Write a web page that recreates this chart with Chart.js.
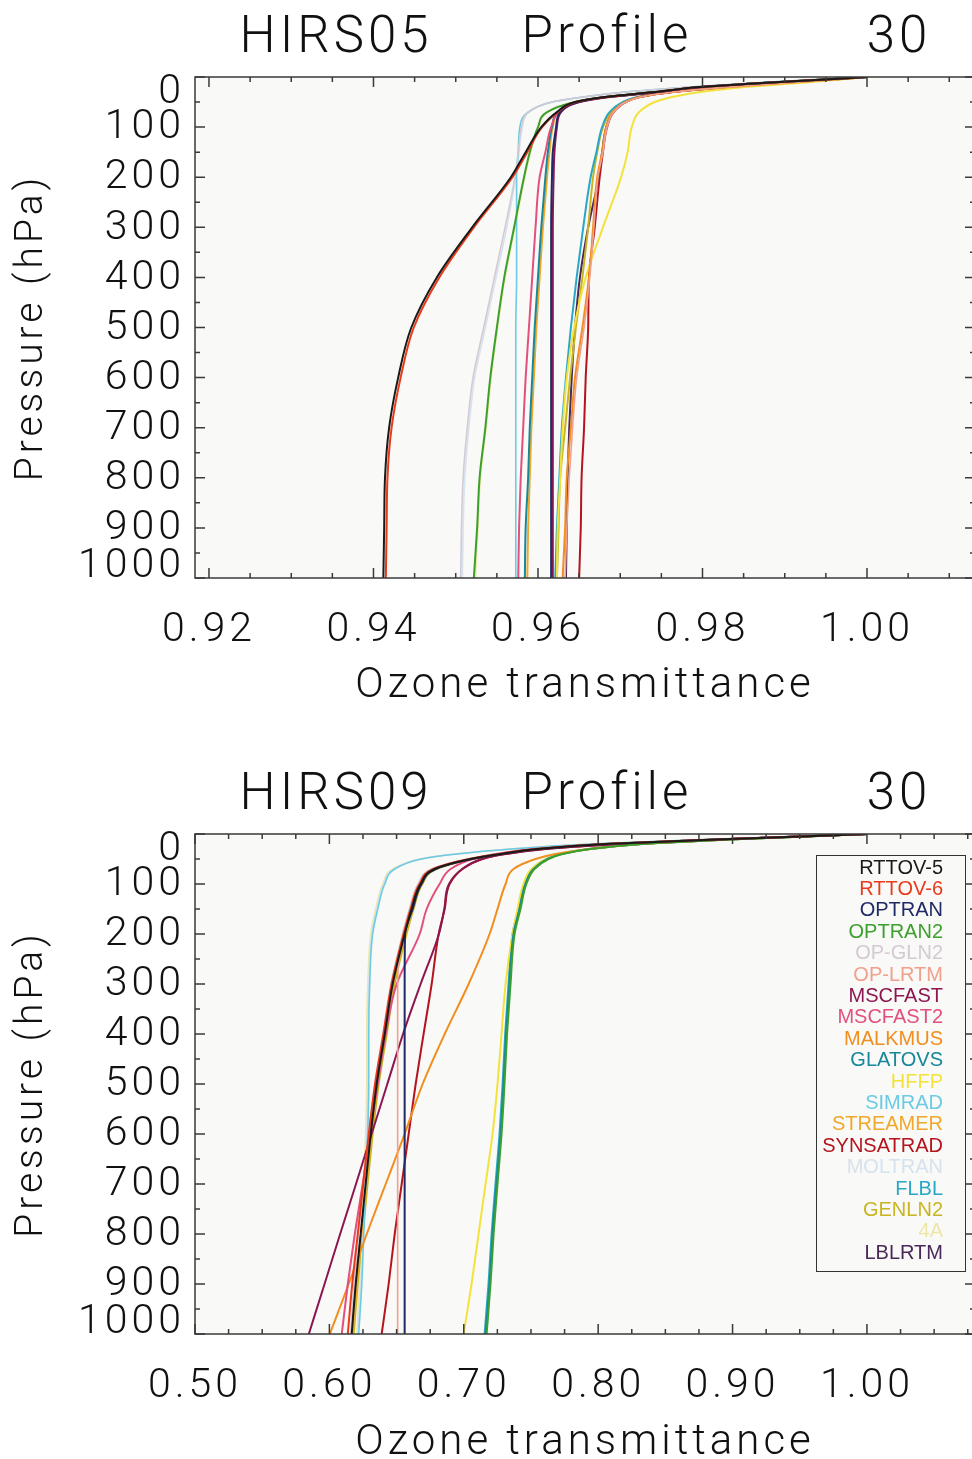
<!DOCTYPE html>
<html><head><meta charset="utf-8">
<script src="https://cdn.jsdelivr.net/npm/chart.js@4"></script>
<style>
html,body{margin:0;padding:0;background:#fff;width:972px;height:1459px;overflow:hidden;position:relative;}
canvas{position:absolute;left:0;}
#c1{top:0}
#c2{top:757px}
</style></head><body>
<canvas id="c1" width="1000" height="720"></canvas>
<canvas id="c2" width="1000" height="720"></canvas>
<script>
// ---------- data ----------
const PRESSURE = [0,10,20,30,40,50,70,100,150,200,300,400,500,600,700,800,900,1000];
const MODEL_NAMES = ['RTTOV-5','RTTOV-6','OPTRAN','OPTRAN2','OP-GLN2','OP-LRTM','MSCFAST','MSCFAST2','MALKMUS','GLATOVS','HFFP','SIMRAD','STREAMER','SYNSATRAD','MOLTRAN','FLBL','GENLN2','4A','LBLRTM'];
const MODEL_COLORS = ['#1a1a1a','#ea3a1c','#1f2a66','#3ca02c','#d4cad4','#f2a08e','#8e1650','#e2507e','#f18e1e','#17879a','#f4e23c','#6ccbe2','#f0a82a','#b3141e','#d6e2ee','#2aa6c6','#c9b522','#efe6a6','#4a2858'];
const MODEL_WIDTHS = [2,2,2,2,1.6,1.6,2,2,2,2,2,1.6,2,2,1.6,2,2,1.6,2];

const TITLE_05 = ['HIRS05','Profile','30'];
const TITLE_09 = ['HIRS09','Profile','30'];
const X_TITLE = 'Ozone transmittance';
const Y_TITLE = 'Pressure (hPa)';
const Y_MAJOR = [0,100,200,300,400,500,600,700,800,900,1000];
const X_MAJOR_05 = [0.92,0.94,0.96,0.98,1.00];
const X_MAJOR_09 = [0.50,0.60,0.70,0.80,0.90,1.00];

// HIRS05 transmittance profiles (one per model, at PRESSURE levels)
const h05_rttov5   = [1.0000,0.9894,0.9797,0.9742,0.9681,0.9645,0.9623,0.9604,0.9585,0.9567,0.9520,0.9477,0.9446,0.9430,0.9419,0.9414,0.9413,0.9412];
const h05_rttov6   = [1.0000,0.9895,0.9798,0.9743,0.9682,0.9646,0.9624,0.9605,0.9587,0.9569,0.9522,0.9480,0.9449,0.9433,0.9422,0.9417,0.9416,0.9415];
const h05_optran   = [1.0000,0.9894,0.9797,0.9745,0.9684,0.9649,0.9627,0.9622,0.9618,0.9617,0.9616,0.9616,0.9616,0.9616,0.9616,0.9616,0.9616,0.9616];
const h05_optran2  = [1.0000,0.9894,0.9797,0.9742,0.9681,0.9645,0.9611,0.9600,0.9590,0.9583,0.9571,0.9559,0.9550,0.9542,0.9536,0.9529,0.9526,0.9522];
const h05_opgln2   = [1.0000,0.9882,0.9785,0.9706,0.9655,0.9617,0.9588,0.9580,0.9576,0.9572,0.9560,0.9547,0.9534,0.9521,0.9514,0.9509,0.9507,0.9506];
const h05_oplrtm   = [1.0000,0.9919,0.9834,0.9765,0.9725,0.9707,0.9692,0.9684,0.9679,0.9673,0.9668,0.9663,0.9656,0.9647,0.9642,0.9638,0.9635,0.9633];
const h05_mscfast  = [1.0000,0.9895,0.9798,0.9746,0.9685,0.9650,0.9628,0.9623,0.9620,0.9619,0.9618,0.9618,0.9618,0.9618,0.9618,0.9618,0.9618,0.9618];
const h05_mscfast2 = [1.0000,0.9897,0.9803,0.9748,0.9688,0.9651,0.9626,0.9616,0.9609,0.9602,0.9597,0.9593,0.9589,0.9585,0.9582,0.9579,0.9577,0.9576];
const h05_malkmus  = [1.0000,0.9919,0.9833,0.9764,0.9724,0.9706,0.9691,0.9683,0.9678,0.9672,0.9667,0.9662,0.9654,0.9645,0.9640,0.9635,0.9633,0.9630];
const h05_glatovs  = [1.0000,0.9894,0.9797,0.9743,0.9683,0.9647,0.9624,0.9617,0.9612,0.9609,0.9604,0.9600,0.9596,0.9593,0.9590,0.9588,0.9585,0.9584];
const h05_hffp     = [1.0000,0.9931,0.9852,0.9797,0.9763,0.9742,0.9723,0.9714,0.9709,0.9701,0.9679,0.9658,0.9644,0.9635,0.9630,0.9627,0.9624,0.9623];
const h05_simrad   = [1.0000,0.9882,0.9785,0.9706,0.9655,0.9617,0.9588,0.9578,0.9576,0.9574,0.9574,0.9574,0.9573,0.9573,0.9573,0.9573,0.9573,0.9573];
const h05_streamer = [1.0000,0.9894,0.9797,0.9744,0.9684,0.9648,0.9625,0.9618,0.9614,0.9611,0.9606,0.9602,0.9598,0.9595,0.9592,0.9590,0.9588,0.9587];
const h05_synsatrad= [1.0000,0.9919,0.9833,0.9764,0.9724,0.9707,0.9692,0.9684,0.9679,0.9675,0.9669,0.9662,0.9661,0.9658,0.9656,0.9653,0.9652,0.9650];
const h05_moltran  = [1.0000,0.9883,0.9786,0.9707,0.9656,0.9618,0.9589,0.9581,0.9577,0.9573,0.9562,0.9549,0.9536,0.9523,0.9516,0.9511,0.9509,0.9508];
const h05_flbl     = [1.0000,0.9915,0.9830,0.9761,0.9721,0.9703,0.9687,0.9678,0.9671,0.9664,0.9655,0.9647,0.9640,0.9634,0.9629,0.9626,0.9623,0.9621];
const h05_genln2   = [1.0000,0.9916,0.9831,0.9762,0.9722,0.9705,0.9689,0.9679,0.9672,0.9667,0.9661,0.9654,0.9646,0.9639,0.9633,0.9627,0.9625,0.9623];
const h05_4a       = [1.0000,0.9894,0.9797,0.9742,0.9681,0.9645,0.9612,0.9601,0.9591,0.9584,0.9572,0.9560,0.9551,0.9543,0.9537,0.9530,0.9527,0.9524];
const h05_lblrtm   = [1.0000,0.9918,0.9832,0.9763,0.9723,0.9706,0.9691,0.9683,0.9678,0.9674,0.9661,0.9651,0.9645,0.9641,0.9638,0.9636,0.9635,0.9634];

// HIRS09 transmittance profiles
const h09_rttov5   = [1.0000,0.8983,0.8054,0.7549,0.7274,0.7051,0.6783,0.6679,0.6612,0.6560,0.6471,0.6412,0.6352,0.6308,0.6270,0.6233,0.6196,0.6166];
const h09_rttov6   = [1.0000,0.8975,0.8040,0.7535,0.7260,0.7040,0.6772,0.6670,0.6604,0.6552,0.6463,0.6402,0.6340,0.6293,0.6252,0.6211,0.6170,0.6137];
const h09_optran   = [1.0000,0.8990,0.8060,0.7555,0.7280,0.7058,0.6790,0.6686,0.6620,0.6563,0.6560,0.6560,0.6560,0.6560,0.6560,0.6560,0.6560,0.6560];
const h09_optran2  = [1.0000,0.9070,0.8328,0.7942,0.7734,0.7630,0.7526,0.7466,0.7422,0.7378,0.7348,0.7322,0.7303,0.7281,0.7251,0.7222,0.7199,0.7170];
const h09_opgln2   = [1.0000,0.8970,0.8030,0.7520,0.7245,0.7025,0.6760,0.6660,0.6595,0.6545,0.6458,0.6398,0.6338,0.6293,0.6255,0.6218,0.6183,0.6159];
const h09_oplrtm   = [1.0000,0.8985,0.8055,0.7550,0.7276,0.7054,0.6786,0.6683,0.6612,0.6545,0.6508,0.6508,0.6508,0.6508,0.6508,0.6508,0.6508,0.6508];
const h09_mscfast  = [1.0000,0.8975,0.8150,0.7600,0.7305,0.7135,0.6988,0.6890,0.6855,0.6815,0.6679,0.6548,0.6431,0.6314,0.6198,0.6080,0.5964,0.5847];
const h09_mscfast2 = [1.0000,0.8983,0.8165,0.7534,0.7236,0.7066,0.6902,0.6820,0.6724,0.6672,0.6501,0.6419,0.6360,0.6300,0.6248,0.6189,0.6137,0.6092];
const h09_malkmus  = [1.0000,0.9057,0.8314,0.7942,0.7682,0.7534,0.7370,0.7311,0.7251,0.7192,0.7036,0.6858,0.6694,0.6560,0.6419,0.6278,0.6144,0.6003];
const h09_glatovs  = [1.0000,0.9064,0.8321,0.7935,0.7727,0.7623,0.7519,0.7459,0.7415,0.7370,0.7340,0.7315,0.7296,0.7274,0.7244,0.7214,0.7192,0.7162];
const h09_hffp     = [1.0000,0.9057,0.8314,0.7927,0.7719,0.7615,0.7504,0.7444,0.7400,0.7363,0.7311,0.7281,0.7251,0.7214,0.7162,0.7110,0.7058,0.6999];
const h09_simrad   = [1.0000,0.8915,0.7950,0.7355,0.6946,0.6686,0.6486,0.6412,0.6360,0.6322,0.6300,0.6293,0.6293,0.6285,0.6270,0.6256,0.6241,0.6218];
const h09_streamer = [1.0000,0.8985,0.8055,0.7550,0.7276,0.7054,0.6786,0.6683,0.6616,0.6565,0.6476,0.6416,0.6356,0.6312,0.6276,0.6240,0.6205,0.6174];
const h09_synsatrad= [1.0000,0.8983,0.8165,0.7608,0.7311,0.7140,0.6991,0.6895,0.6858,0.6813,0.6761,0.6701,0.6642,0.6590,0.6538,0.6486,0.6441,0.6389];
const h09_moltran  = [1.0000,0.8908,0.7942,0.7348,0.6939,0.6679,0.6479,0.6404,0.6352,0.6315,0.6293,0.6285,0.6285,0.6278,0.6263,0.6248,0.6233,0.6211];
const h09_flbl     = [1.0000,0.9057,0.8314,0.7927,0.7719,0.7615,0.7511,0.7452,0.7407,0.7363,0.7333,0.7308,0.7289,0.7266,0.7236,0.7207,0.7184,0.7155];
const h09_genln2   = [1.0000,0.8995,0.8065,0.7560,0.7286,0.7063,0.6796,0.6692,0.6626,0.6574,0.6485,0.6427,0.6367,0.6322,0.6284,0.6248,0.6211,0.6181];
const h09_4a       = [1.0000,0.8900,0.7935,0.7340,0.6930,0.6672,0.6471,0.6397,0.6345,0.6308,0.6286,0.6278,0.6278,0.6270,0.6256,0.6241,0.6226,0.6204];
const h09_lblrtm   = [1.0000,0.8990,0.8060,0.7555,0.7280,0.7058,0.6790,0.6686,0.6620,0.6567,0.6478,0.6419,0.6358,0.6313,0.6274,0.6236,0.6198,0.6166];

const H05 = [h05_rttov5,h05_rttov6,h05_optran,h05_optran2,h05_opgln2,h05_oplrtm,h05_mscfast,h05_mscfast2,h05_malkmus,h05_glatovs,h05_hffp,h05_simrad,h05_streamer,h05_synsatrad,h05_moltran,h05_flbl,h05_genln2,h05_4a,h05_lblrtm];
const H09 = [h09_rttov5,h09_rttov6,h09_optran,h09_optran2,h09_opgln2,h09_oplrtm,h09_mscfast,h09_mscfast2,h09_malkmus,h09_glatovs,h09_hffp,h09_simrad,h09_streamer,h09_synsatrad,h09_moltran,h09_flbl,h09_genln2,h09_4a,h09_lblrtm];

// ---------- styling ----------
const FONT = "Roboto, 'DejaVu Sans', sans-serif";
const FW = '300';
const INK = '#111111';
const FRAME = '#3a3a3a';
const PLOT_BG = '#f9f9f7';
const LS = '4px';

function buildDatasets(series) {
  return series.map((vals, i) => ({
    label: MODEL_NAMES[i],
    data: vals.map((v, j) => ({x: v, y: PRESSURE[j]})),
    borderColor: MODEL_COLORS[i],
    backgroundColor: MODEL_COLORS[i],
    borderWidth: MODEL_WIDTHS[i],
    pointRadius: 0,
    fill: false,
    cubicInterpolationMode: 'monotone',
    indexAxis: 'y'
  }));
}

function isMajor(v, majors) { return majors.some(m => Math.abs(m - v) < 1e-7); }

function framePlugin(title, withLegend) {
  return {
    id: 'frame',
    beforeDraw(chart) {
      const {ctx, chartArea: a} = chart;
      ctx.save();
      ctx.fillStyle = PLOT_BG;
      ctx.fillRect(a.left, a.top, a.right - a.left, a.bottom - a.top);
      ctx.fillStyle = INK;
      ctx.font = `${FW} 51px ${FONT}`;
      ctx.letterSpacing = LS;
      ctx.textAlign = 'center';
      ctx.textBaseline = 'alphabetic';
      const cx = [336, 607, 899];
      title.forEach((t, i) => ctx.fillText(t, cx[i], 52));
      ctx.restore();
      chart.ctx.letterSpacing = LS;
    },
    afterDraw(chart) {
      const {ctx, chartArea: a, scales} = chart;
      ctx.save();
      ctx.letterSpacing = '0px';
      ctx.strokeStyle = FRAME;
      ctx.lineWidth = 1.5;
      ctx.strokeRect(a.left, a.top, a.right - a.left, a.bottom - a.top);
      ctx.beginPath();
      scales.x.ticks.forEach(t => {
        const px = scales.x.getPixelForValue(t.value);
        if (px < a.left - 0.5 || px > a.right + 0.5) return;
        const len = t.label ? 10 : 5;
        ctx.moveTo(px, a.bottom); ctx.lineTo(px, a.bottom - len);
        ctx.moveTo(px, a.top); ctx.lineTo(px, a.top + len);
      });
      scales.y.ticks.forEach(t => {
        const py = scales.y.getPixelForValue(t.value);
        const len = t.label ? 10 : 5;
        ctx.moveTo(a.left, py); ctx.lineTo(a.left + len, py);
        ctx.moveTo(a.right, py); ctx.lineTo(a.right - len, py);
      });
      ctx.stroke();
      // y tick labels (end labels pulled inside the axis span)
      ctx.fillStyle = INK;
      ctx.font = `${FW} 41px ${FONT}`;
      ctx.letterSpacing = LS;
      ctx.textAlign = 'right';
      ctx.textBaseline = 'middle';
      scales.y.ticks.forEach(t => {
        if (!t.label) return;
        let py = scales.y.getPixelForValue(t.value);
        py = Math.min(Math.max(py, a.top + 15), a.bottom - 12);
        ctx.fillText(t.label, 185, py + 1);
      });
      if (withLegend) {
        ctx.letterSpacing = '0px';
        const bx = 816, by = 98, bw = 149, bh = 416;
        ctx.fillStyle = PLOT_BG;
        ctx.fillRect(bx, by, bw, bh);
        ctx.strokeStyle = '#333';
        ctx.lineWidth = 1;
        ctx.strokeRect(bx + 0.5, by + 0.5, bw, bh);
        ctx.font = "20px 'Liberation Sans', Arial, sans-serif";
        ctx.textAlign = 'right';
        ctx.textBaseline = 'middle';
        chart.data.datasets.forEach((d, i) => {
          ctx.fillStyle = d.borderColor;
          ctx.fillText(d.label, 943, 111 + i * 21.4);
        });
      }
      ctx.restore();
    }
  };
}

function makeChart(id, series, title, xmin, xmax, xstep, xMajors, xAxisH, withLegend) {
  return new Chart(document.getElementById(id), {
    type: 'line',
    data: {datasets: buildDatasets(series)},
    options: {
      responsive: false,
      animation: false,
      devicePixelRatio: 1,
      indexAxis: 'y',
      layout: {padding: {top: 77, right: 25, left: 0, bottom: 0}},
      plugins: {legend: {display: false}, tooltip: {enabled: false}, title: {display: false}},
      scales: {
        x: {
          type: 'linear', position: 'bottom', min: xmin, max: xmax,
          grid: {display: false, drawTicks: false},
          border: {display: false},
          ticks: {
            stepSize: xstep, autoSkip: false, maxRotation: 0, minRotation: 0, includeBounds: false,
            padding: 28, color: INK, font: {family: FONT, size: 41, weight: FW, lineHeight: 1.2},
            callback: (v) => isMajor(v, xMajors) ? Number(v).toFixed(2) : ''
          },
          title: {display: true, text: X_TITLE, color: INK,
                  font: {family: FONT, size: 42, weight: FW, lineHeight: 1.2},
                  padding: {top: 0, bottom: 8}},
          afterFit(s) { s.height = xAxisH; }
        },
        y: {
          type: 'linear', position: 'left', reverse: true, min: 0, max: 1000,
          grid: {display: false, drawTicks: false},
          border: {display: false},
          ticks: {stepSize: 50, autoSkip: false, display: false,
                  callback: (v) => isMajor(v, Y_MAJOR) ? String(v) : ''},
          title: {display: true, text: Y_TITLE, color: INK,
                  font: {family: FONT, size: 39, weight: FW, lineHeight: 1.2},
                  padding: {top: 9, bottom: 0}},
          afterFit(s) { s.width = 195; }
        }
      }
    },
    plugins: [framePlugin(title, withLegend)]
  });
}

makeChart('c1', H05, TITLE_05, 0.91830, 1.01313, 0.005, X_MAJOR_05, 142, false);
makeChart('c2', H09, TITLE_09, 0.5000, 1.0804, 0.025, X_MAJOR_09, 143, true);
</script>
</body></html>
